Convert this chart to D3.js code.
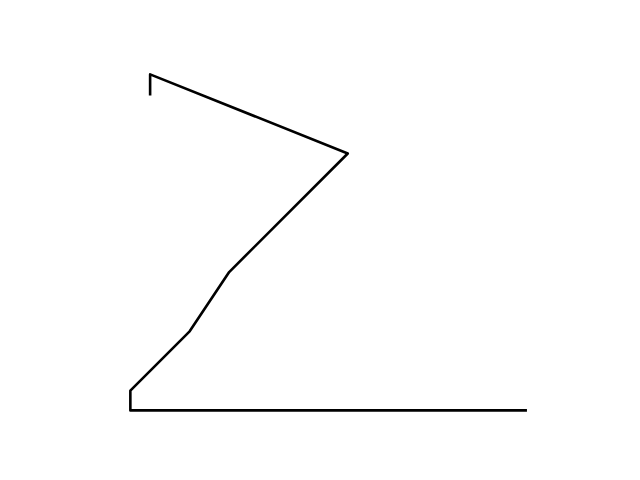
<!DOCTYPE html>
<html>
<head>
<meta charset="utf-8">
<script src="https://cdn.jsdelivr.net/npm/d3@7"></script>
<style>
  html, body { margin: 0; padding: 0; background: #fff; }
  svg { display: block; }
</style>
</head>
<body>
<svg id="chart" width="640" height="480"></svg>
<script>
const xValues = [1, 1, 11, 5, 3, 0, 0, 20];
const yValues = [16, 17, 13, 7, 4, 1, 0, 0];

const width = 640, height = 480;
const axLeft = 80, axRight = 576, axTop = 57.6, axBottom = 427.2;

const yMin = d3.min(yValues), yMax = d3.max(yValues);
const yPad = (yMax - yMin) * 0.05;
const y = d3.scaleLinear().domain([yMin - yPad, yMax + yPad]).range([axBottom, axTop]);
const pxPerUnit = (axBottom - axTop) / (yMax - yMin + 2 * yPad);
const xMin = d3.min(xValues), xMax = d3.max(xValues);
const xc = (xMin + xMax) / 2;
const halfSpan = (axRight - axLeft) / pxPerUnit / 2;
const x = d3.scaleLinear().domain([xc - halfSpan, xc + halfSpan]).range([axLeft, axRight]);

const svg = d3.select("#chart");
const pts = xValues.map((v, i) => [v, yValues[i]]);
const line = d3.line().x(d => x(d[0])).y(d => y(d[1]));

svg.append("path")
  .datum(pts)
  .attr("d", line)
  .attr("fill", "none")
  .attr("stroke", "#000")
  .attr("stroke-width", 2.6)
  .attr("stroke-linejoin", "round")
  .attr("stroke-linecap", "square");
</script>
</body>
</html>
